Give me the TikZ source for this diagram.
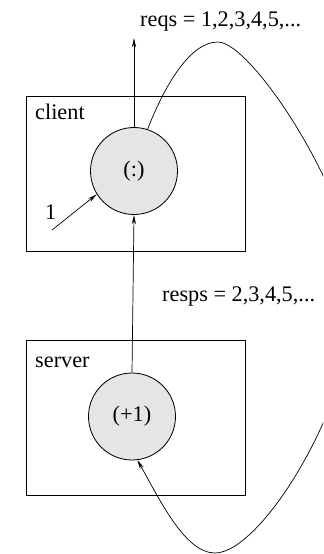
\documentclass[tikz,border=0pt]{standalone}
\usepackage{fontspec}
\setmainfont{Liberation Serif}
\usetikzlibrary{arrows.meta}

\begin{document}
\begin{tikzpicture}[x=0.03cm,y=0.03cm,
  box/.style={draw,line width=0.7pt,minimum width=6.57cm,minimum height=4.65cm},
  fun/.style={draw,circle,fill=gray!20,line width=0.7pt,minimum size=2.61cm,inner sep=0pt},
  flow/.style={-{Stealth[length=8pt,width=3.5pt]},line width=0.6pt},
  every node/.style={font=\fontsize{19}{23}\selectfont}]
\useasboundingbox (0,0) rectangle (323,554);
\clip (0,0) rectangle (323,554);

\node[box] (client) at (135.5,380.5) {};
\node[box] (server) at (135.5,136.5) {};
\node[anchor=base west,inner sep=0pt] (clientlbl) at (35,434) {client};
\node[anchor=base west,inner sep=0pt] (serverlbl) at (35,186) {server};

\node[fun] (clientfun) at (134,383) {(:)};
\node[fun] (serverfun) at (132,137.5) {(+1)};

\node[anchor=base west,inner sep=0pt] (reqs) at (140,527) {reqs = 1,2,3,4,5,...};
\node[anchor=base west,inner sep=0pt] (resps) at (162,252) {resps = 2,3,4,5,...};
\node[anchor=base west,inner sep=0pt] (one) at (45,334) {1};

\coordinate (reqsout) at (134,516);
\coordinate (onein) at (52,324);

\draw[flow] (clientfun.north) -- (reqsout);
\draw[flow] (serverfun.north) -- (clientfun.south);
\draw[flow] (onein) -- (clientfun.212);
\draw[flow] (clientfun.72) .. controls (165,469) and (190,512) .. (218,512)
  .. controls (252,512) and (356,354) .. (356,264)
  .. controls (356,154) and (262,1) .. (215,1)
  .. controls (185,1) and (160,54) .. (serverfun.-83);
\end{tikzpicture}
\end{document}
